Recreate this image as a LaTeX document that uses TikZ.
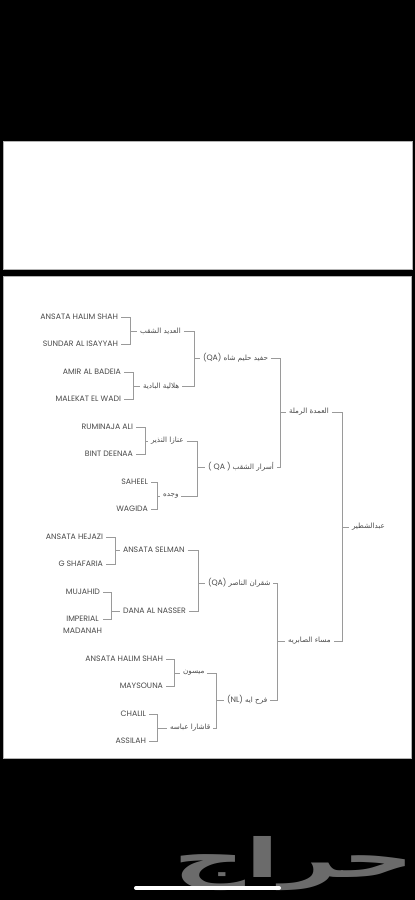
\documentclass[tikz,border=0pt]{standalone}
\usepackage{fontspec}
\usepackage{graphicx}
\setmainfont{Poppins}
\newfontfamily\ar[Script=Arabic]{DejaVu Sans}
\TeXXeTstate=1
\definecolor{txt}{HTML}{4A4A4A}
\definecolor{ln}{HTML}{9A9A9A}
\definecolor{wm}{HTML}{6B6B6B}
\newcommand\mybrk[4]{%
  \coordinate (bx) at (#3,0);
  \draw[conn] (#1.east) -- (#1.east -| bx) -- (#2.east -| bx) -- (#2.east);
  \draw[conn] (#4.west -| bx) -- (#4.west);}
\begin{document}
\begin{tikzpicture}[x=1pt,y=-1pt,
  leaf/.style={anchor=east, inner sep=0pt, outer sep=3pt, text=txt, font=\fontsize{7.8}{12}\selectfont},
  lab/.style={anchor=west, inner sep=0pt, outer sep=3pt, text=txt, font=\fontsize{7.8}{12}\selectfont},
  arl/.style={font=\fontsize{7.2}{12}\selectfont},
  conn/.style={draw=ln, line width=0.7pt}]
\fill[black] (0,0) rectangle (415,900);
\useasboundingbox (0,0) rectangle (415,900);
\filldraw[fill=white, draw=gray!60, line width=0.6pt] (3,141) rectangle (412,269);
\filldraw[fill=white, draw=gray!60, line width=0.6pt] (3,276) rectangle (411,758);
% group A
\node[leaf] (a1) at (121,317) {ANSATA HALIM SHAH};
\node[leaf] (a2) at (121,344) {SUNDAR AL ISAYYAH};
\node[lab,arl] (A) at (137,331) {\ar\beginR العديد الشقب\endR};
\mybrk{a1}{a2}{130}{A}
\node[leaf] (a3) at (124,372) {AMIR AL BADEIA};
\node[leaf] (a4) at (124,399) {MALEKAT EL WADI};
\node[lab,arl] (B) at (140,386) {\ar\beginR هلالية البادية\endR};
\mybrk{a3}{a4}{133}{B}
\node[lab] (AB) at (200,358) {(QA) {\fontsize{7.2}{12}\ar\beginR حفيد حليم شاه\endR}};
\mybrk{A}{B}{194}{AB}
% group C
\node[leaf] (c1) at (136,427) {RUMINAJA ALI};
\node[leaf] (c2) at (136,454) {BINT DEENAA};
\node[lab,arl] (C) at (148,441) {\ar\beginR عنازا النذير\endR};
\mybrk{c1}{c2}{145}{C}
\node[leaf] (c3) at (151,482) {SAHEEL};
\node[leaf] (c4) at (151,509) {WAGIDA};
\node[lab,arl] (D) at (160,496) {\ar\beginR وجده\endR};
\mybrk{c3}{c4}{157}{D}
\node[lab] (CD) at (205,467) {( QA ) {\fontsize{7.2}{12}\ar\beginR أسرار الشقب\endR}};
\mybrk{C}{D}{197}{CD}
\node[lab,arl] (M1) at (286,412) {\ar\beginR العمدة الرملة\endR};
\mybrk{AB}{CD}{280}{M1}
% group E
\node[leaf] (e1) at (106,537) {ANSATA HEJAZI};
\node[leaf] (e2) at (106,564) {G SHAFARIA};
\node[lab] (E) at (120,550) {ANSATA SELMAN};
\mybrk{e1}{e2}{115}{E}
\node[leaf] (e3) at (103,592) {MUJAHID};
\node[anchor=north east, inner sep=0pt, outer sep=3pt, text=txt, align=center, font=\fontsize{7.8}{12}\selectfont] (e4) at (105,613.5) {IMPERIAL\\MADANAH};
\coordinate (e4t) at ([yshift=-5.5pt,xshift=-2pt]e4.north east);
\node[lab] (F) at (120,611) {DANA AL NASSER};
\coordinate (bxF) at (111,0);
\draw[conn] (e3.east) -- (e3.east -| bxF) -- (e4t -| bxF) -- (e4t);
\draw[conn] (F.west -| bxF) -- (F.west);
\node[lab] (EF) at (205,583) {(QA) {\fontsize{7.2}{12}\ar\beginR شقران الناصر\endR}};
\mybrk{E}{F}{198}{EF}
% group G
\node[leaf] (g1) at (166,659) {ANSATA HALIM SHAH};
\node[leaf] (g2) at (166,686) {MAYSOUNA};
\node[lab,arl] (G) at (180,673) {\ar\beginR ميسون\endR};
\mybrk{g1}{g2}{174}{G}
\node[leaf] (g3) at (149,714) {CHALIL};
\node[leaf] (g4) at (149,741) {ASSILAH};
\node[lab,arl] (H) at (167,728) {\ar\beginR قاشارا عباسه\endR};
\mybrk{g3}{g4}{157}{H}
\node[lab] (GH) at (224,700) {(NL) {\fontsize{7.2}{12}\ar\beginR فرح ايه\endR}};
\mybrk{G}{H}{216}{GH}
\node[lab,arl] (M2) at (285,641) {\ar\beginR مساء الصابريه\endR};
\mybrk{EF}{GH}{277}{M2}
\node[lab,arl] (R) at (349,527) {\ar\beginR عبدالشطير\endR};
\mybrk{M1}{M2}{342}{R}
% watermark
\node[text=wm, inner sep=0pt] (wmk) at (294,864) {\scalebox{1.85}[1]{\fontsize{54}{54}\ar\bfseries حراج}};
\draw[white, line width=4pt, line cap=round] (136,888) -- (279,888);
\end{tikzpicture}
\end{document}
